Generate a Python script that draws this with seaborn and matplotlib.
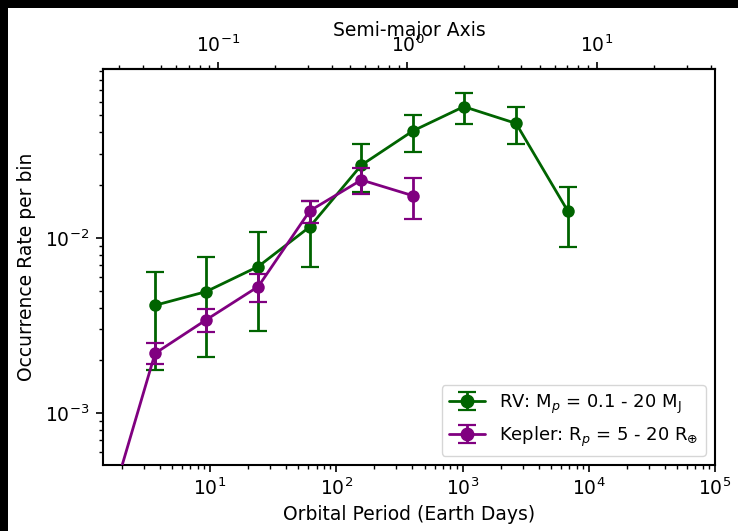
import numpy as np
import pandas as pd
import matplotlib
matplotlib.use("Agg")
import matplotlib.pyplot as plt
import seaborn as sns
from matplotlib.patches import Rectangle

# ---- data ----
rv_period = [3.67, 9.3, 24.1, 61.7, 158, 405, 1024, 2656, 6807]
rv_rate = [0.00412, 0.00493, 0.00686, 0.01156, 0.0260, 0.0408, 0.0561, 0.0450, 0.01426]
rv_lo = [0.00175, 0.00209, 0.00293, 0.00686, 0.0182, 0.0311, 0.0447, 0.0343, 0.0089]
rv_hi = [0.00642, 0.00779, 0.0108, 0.01626, 0.0343, 0.0504, 0.0671, 0.0556, 0.0196]

kep_period = [1.43, 3.67, 9.3, 24.1, 61.7, 158, 405]
kep_rate = [0.000218, 0.00219, 0.0034, 0.00527, 0.01426, 0.0214, 0.0174]
kep_lo = [0.000200, 0.0019, 0.0029, 0.00433, 0.0121, 0.0178, 0.0128]
kep_hi = [0.000240, 0.00252, 0.00392, 0.00621, 0.01626, 0.0250, 0.0219]

rv_label = r"RV: M$_p$ = 0.1 - 20 M$_{\rm J}$"
kep_label = r"Kepler: R$_p$ = 5 - 20 R$_{\oplus}$"

GREEN = "#006400"
PURPLE = "#800080"

sns.set_style("ticks")
FS = 13.5
plt.rcParams.update({
    "font.family": ["DejaVu Sans"],
    "font.size": FS,
    "axes.labelsize": FS,
    "xtick.labelsize": FS,
    "ytick.labelsize": FS,
    "legend.fontsize": 13,
    "axes.edgecolor": "black",
    "axes.linewidth": 1.5,
    "xtick.color": "black",
    "ytick.color": "black",
    "xtick.major.size": 5,
    "ytick.major.size": 5,
    "xtick.minor.size": 3,
    "ytick.minor.size": 3,
    "xtick.major.width": 1.2,
    "ytick.major.width": 1.2,
    "xtick.minor.width": 1.0,
    "ytick.minor.width": 1.0,
    "xtick.major.pad": 4,
    "ytick.major.pad": 5,
    "axes.labelcolor": "black",
    "text.color": "black",
})

fig = plt.figure(figsize=(7.38, 5.31), dpi=100, facecolor="black")
fig.add_artist(Rectangle((8 / 738, 0), 730 / 738, 523 / 531, transform=fig.transFigure,
                         facecolor="white", edgecolor="none", zorder=-10))
ax = fig.add_axes([103 / 738, 1 - 465 / 531, 612 / 738, 396 / 531])

rv = pd.DataFrame({"period": rv_period, "rate": rv_rate})
kep = pd.DataFrame({"period": kep_period, "rate": kep_rate})

MS = 9
CS = 6.5

def draw(df, lo, hi, color, label, z):
    rate = np.array(df["rate"])
    yerr = [rate - np.array(lo), np.array(hi) - rate]
    ax.errorbar(df["period"], rate, yerr=yerr, fmt="none", ecolor=color,
                elinewidth=2, capsize=CS, capthick=1.6, zorder=z)
    sns.lineplot(data=df, x="period", y="rate", ax=ax, color=color, lw=2,
                 marker="o", markersize=MS, markeredgewidth=0, legend=False,
                 zorder=z + 0.5)
    ax.errorbar([np.nan], [np.nan], yerr=[[np.nan], [np.nan]], fmt="-o",
                color=color, lw=2, elinewidth=2, capsize=CS, capthick=1.6,
                markersize=MS, label=label)

draw(rv, rv_lo, rv_hi, GREEN, rv_label, 2)
draw(kep, kep_lo, kep_hi, PURPLE, kep_label, 3)

ax.set_xscale("log")
ax.set_yscale("log")
ax.set_xlim(1.42, 1e5)
ax.set_ylim(5.05e-4, 0.092)
ax.set_xlabel("Orbital Period (Earth Days)", labelpad=4)
ax.set_ylabel("Occurrence Rate per bin", labelpad=6)

def p2a(p):
    return (np.asarray(p, dtype=float) / 365.25) ** (2.0 / 3.0)

def a2p(a):
    return 365.25 * np.asarray(a, dtype=float) ** 1.5

sec = ax.secondary_xaxis("top", functions=(p2a, a2p))
sec.set_xlabel("Semi-major Axis", labelpad=-1)

ax.legend(loc="lower right", frameon=True, handlelength=2.0)

fig.savefig("out.png", dpi=100, facecolor=fig.get_facecolor())
